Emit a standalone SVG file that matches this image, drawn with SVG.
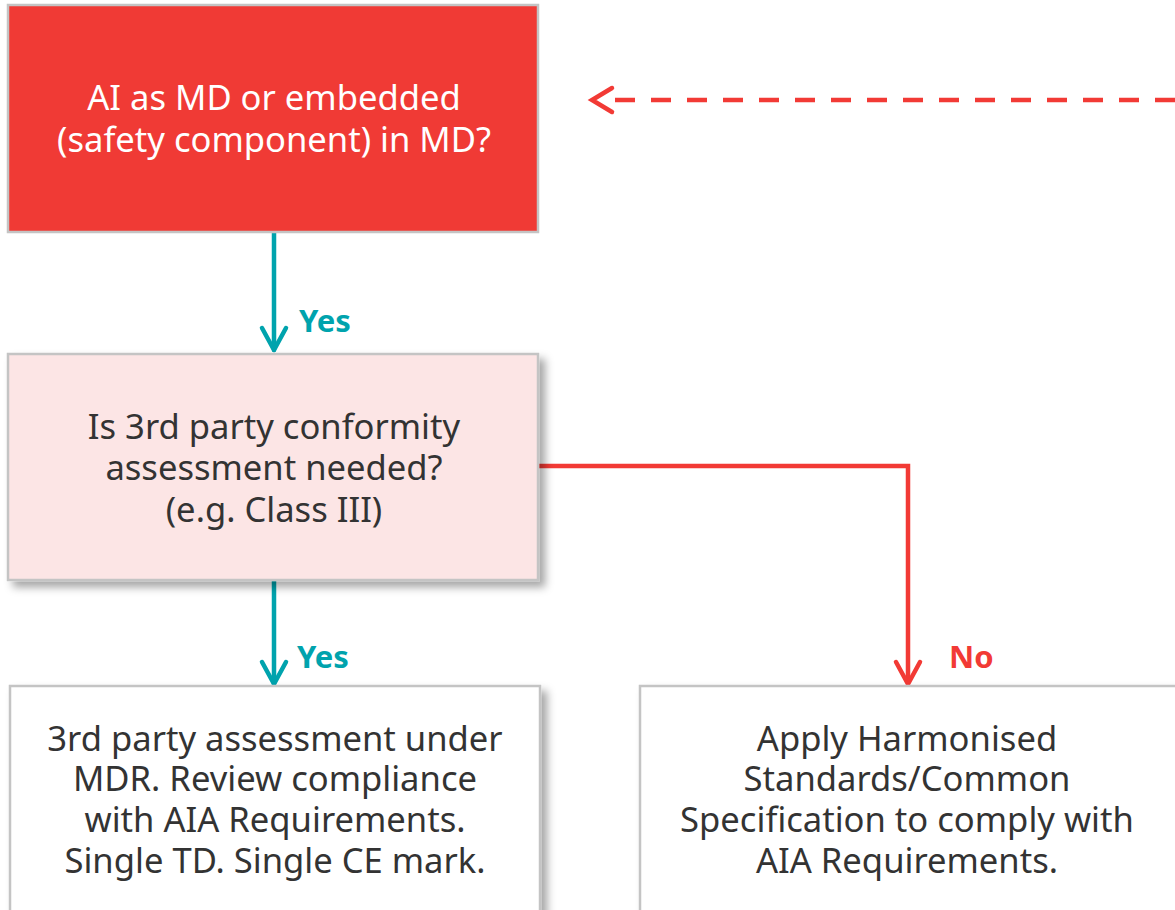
<svg xmlns="http://www.w3.org/2000/svg" width="1175" height="910" viewBox="0 0 1175 910">
<style>
.t{font-family:"Noto Sans","Open Sans","DejaVu Sans",sans-serif;font-size:34.6px;text-anchor:middle;fill:#333333}
.w{fill:#ffffff}
.lbl{font-family:"Noto Sans","Open Sans","DejaVu Sans",sans-serif;font-size:31px;font-weight:bold}
.box{stroke:#c4c4c4;stroke-width:2.5}
.teal{stroke:#00A3AD;stroke-width:4.5;fill:none;stroke-linejoin:round;stroke-linecap:round}
.red{stroke:#F23A35;stroke-width:4.5;fill:none;stroke-linejoin:miter}
</style>
<defs>
<filter id="sh" x="-10%" y="-10%" width="130%" height="130%">
<feDropShadow dx="6" dy="6" stdDeviation="4" flood-color="#000" flood-opacity="0.35"/>
</filter>
</defs>
<rect width="1175" height="910" fill="#ffffff"/>
<g id="connectors">
<path class="red" d="M1175 100 H600" stroke-dasharray="20 16" stroke-dashoffset="0"/>
<path class="red" d="M612 88 L592 100 L612 112" stroke-linecap="round"/>
<path class="teal" d="M274 233 V350"/>
<path class="teal" d="M262 328 L274 350 L286 328"/>
<path class="teal" d="M274 581 V684"/>
<path class="teal" d="M262 662 L274 684 L286 662"/>
<path class="red" d="M539 466 H908 V683"/>
<path class="red" d="M896 662 L908 684 L920 662" stroke-linecap="round" stroke-linejoin="round"/>
<text class="lbl" x="299" y="332" fill="#00A3AD">Yes</text>
<text class="lbl" x="297" y="668" fill="#00A3AD">Yes</text>
<text class="lbl" x="949" y="668" fill="#F23A35">No</text>
</g>
<g id="node-ai">
<rect class="box" x="8" y="5" width="530" height="227" fill="#F03A35"/>
<text class="t w" x="274" y="110">AI as MD or embedded</text>
<text class="t w" x="274" y="152">(safety component) in MD?</text>
</g>
<g id="node-3rd">
<rect class="box" x="8" y="354" width="530" height="226" fill="#FCE5E5" filter="url(#sh)"/>
<text class="t" x="274" y="439">Is 3rd party conformity</text>
<text class="t" x="274" y="480">assessment needed?</text>
<text class="t" x="274" y="522">(e.g. Class III)</text>
</g>
<g id="node-mdr">
<rect class="box" x="10" y="686" width="530" height="240" fill="#ffffff" filter="url(#sh)"/>
<text class="t" x="275" y="751">3rd party assessment under</text>
<text class="t" x="275" y="791">MDR. Review compliance</text>
<text class="t" x="275" y="832">with AIA Requirements.</text>
<text class="t" x="275" y="873">Single TD. Single CE mark.</text>
</g>
<g id="node-harm">
<rect class="box" x="640" y="686" width="560" height="240" fill="#ffffff" filter="url(#sh)"/>
<text class="t" x="907" y="751">Apply Harmonised</text>
<text class="t" x="907" y="791">Standards/Common</text>
<text class="t" x="907" y="832">Specification to comply with</text>
<text class="t" x="907" y="873">AIA Requirements.</text>
</g>
</svg>
